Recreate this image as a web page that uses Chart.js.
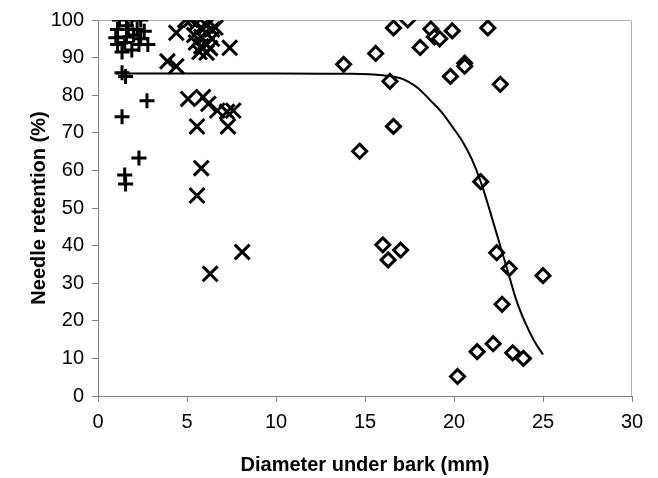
<!DOCTYPE html>
<html>
<head>
<meta charset="utf-8">
<script src="https://cdn.jsdelivr.net/npm/chart.js@4.4.1/dist/chart.umd.min.js"></script>
<style>
  html, body { margin: 0; padding: 0; background: #fff; }
  #wrap { width: 658px; height: 478px; }
</style>
</head>
<body>
<div id="wrap"><canvas id="chart" width="658" height="478"></canvas></div>
<script>
// Data
const plusX = [1.2, 1.9, 2.4, 1.1, 1.7, 2.2, 2.6, 1.0, 1.6, 2.0, 2.4, 1.1, 1.5, 2.3, 2.8, 1.35, 1.9, 1.6,
  1.35, 1.55, 2.75, 1.35, 2.3, 1.5, 1.55];
const plusY = [100, 100, 100, 97.5, 97.5, 97.5, 97, 95.3, 95.5, 96, 95, 93.5, 94, 93.5, 93.5, 91.5, 92, 98.5,
  86, 85, 78.5, 74.3, 63.3, 58.8, 56.4];

const crossX = [4.9, 5.2, 4.4, 3.9, 4.4, 7.4,
  5.5, 5.8, 6.1, 6.4, 6.6, 5.4, 5.8, 6.1, 6.4, 5.5, 5.8, 6.1, 5.7, 6.1, 6.3,
  5.06, 5.9, 6.2, 6.7, 7.25, 7.6, 5.56, 7.3, 5.8, 5.56, 6.3, 8.1];
const crossY = [100, 100, 96.6, 89, 87.7, 92.6,
  99, 98, 98.5, 97.5, 98, 96, 95.5, 96.5, 95, 94, 93, 93.5, 91.5, 91.3, 92.5,
  79, 79.5, 77.7, 75.9, 75.6, 75.9, 71.7, 71.7, 60.6, 53.3, 32.5, 38.3];

const diamondX = [16.6, 17.4, 18.7, 18.9, 19.2, 19.9, 21.9, 18.1, 15.6, 13.8, 16.4, 19.8, 20.6, 20.6, 22.6, 16.6,
  14.7, 21.5, 16.0, 17.0, 16.3, 22.4, 23.1, 25.0, 20.2, 21.3, 22.2, 23.3, 23.9, 22.7];
const diamondY = [97.9, 100, 97.6, 95.5, 95, 97.1, 97.9, 92.7, 91.1, 88.2, 83.7, 85, 88.5, 87.7, 82.9, 71.7,
  65.1, 57, 40.2, 38.8, 36.2, 38.1, 33.9, 32, 5.2, 11.8, 13.9, 11.5, 10, 24.4];

// fitted curve
const curveX = [1, 10, 14, 16, 17, 17.5, 18, 18.7, 19.3, 20, 20.5, 21, 21.5, 22, 22.5, 23, 23.5, 24, 24.5, 25];
const curveY = [85.8, 85.8, 85.7, 85.3, 84.5, 83.4, 81.8, 78.5, 75.5, 71, 67.5, 63, 57, 49.5, 41.5, 33.5, 25.5, 19.5, 14.7, 11];

const xTicks = [0, 5, 10, 15, 20, 25, 30];
const yTicks = [0, 10, 20, 30, 40, 50, 60, 70, 80, 90, 100];

const toPts = (xs, ys) => xs.map((x, i) => ({ x: x, y: ys[i] }));

const axisGray = '#808080';
const font = { family: 'Liberation Sans, Arial, sans-serif', size: 20 };
const titleFont = { family: 'Liberation Sans, Arial, sans-serif', size: 20, weight: 'bold' };

// light frame on the top and right of the plot area
const frame = {
  id: 'frame',
  beforeDatasetsDraw(chart) {
    const a = chart.chartArea;
    const ctx = chart.ctx;
    ctx.save();
    ctx.strokeStyle = '#b0b0b0';
    ctx.lineWidth = 1;
    ctx.beginPath();
    ctx.moveTo(a.left, a.top + 0.5);
    ctx.lineTo(a.right - 0.5, a.top + 0.5);
    ctx.lineTo(a.right - 0.5, a.bottom);
    ctx.stroke();
    ctx.restore();
  }
};

new Chart(document.getElementById('chart'), {
  type: 'scatter',
  data: {
    datasets: [
      {
        type: 'line',
        data: toPts(curveX, curveY),
        borderColor: '#000',
        borderWidth: 2,
        pointRadius: 0,
        cubicInterpolationMode: 'monotone',
        fill: false
      },
      {
        data: toPts(plusX, plusY),
        pointStyle: 'cross',
        pointRadius: 7.5,
        borderColor: '#000',
        borderWidth: 3
      },
      {
        data: toPts(crossX, crossY),
        pointStyle: 'crossRot',
        pointRadius: 10.5,
        borderColor: '#000',
        borderWidth: 3
      },
      {
        data: toPts(diamondX, diamondY),
        pointStyle: 'rectRot',
        pointRadius: 7,
        backgroundColor: '#fff',
        borderColor: '#000',
        borderWidth: 3
      }
    ]
  },
  options: {
    responsive: false,
    animation: false,
    layout: { padding: { left: 0, top: 15, right: 26, bottom: 0 } },
    plugins: { legend: { display: false }, tooltip: { enabled: false } },
    scales: {
      x: {
        type: 'linear',
        min: 0,
        max: 30,
        afterBuildTicks: s => { s.ticks = xTicks.map(v => ({ value: v })); },
        afterFit: s => { s.height = 82; },
        grid: { drawOnChartArea: false, drawTicks: true, tickLength: 6, color: axisGray },
        border: { color: axisGray, width: 1 },
        ticks: { color: '#000', font: font, padding: 8, maxRotation: 0 },
        title: { display: true, text: 'Diameter under bark (mm)', color: '#000', font: titleFont, padding: { top: 0, bottom: 1 } }
      },
      y: {
        type: 'linear',
        min: 0,
        max: 100,
        afterBuildTicks: s => { s.ticks = yTicks.map(v => ({ value: v })); },
        afterFit: s => { s.width = 98; },
        grid: { drawOnChartArea: false, drawTicks: true, tickLength: 6, color: axisGray },
        border: { color: axisGray, width: 1 },
        ticks: { color: '#000', font: font, padding: 8 },
        title: { display: true, text: 'Needle retention (%)', color: '#000', font: titleFont, padding: { top: 27, bottom: 0 } }
      }
    }
  },
  plugins: [frame]
});
</script>
</body>
</html>
